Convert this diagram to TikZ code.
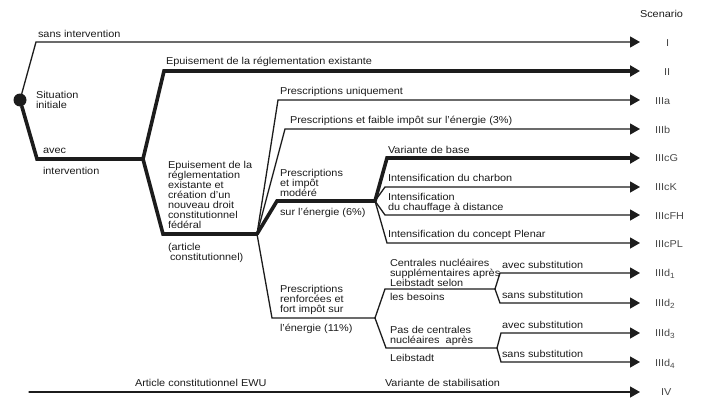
\documentclass[tikz,border=0pt]{standalone}
\usepackage{fontspec}
\setmainfont{Liberation Sans}[FakeStretch=1.09]
\usetikzlibrary{arrows.meta}
\definecolor{ink}{HTML}{1C1C1C}
\begin{document}
\begin{tikzpicture}[x=1pt,y=-1pt,
  lbl/.style={inner sep=0pt, outer sep=0pt, font=\fontsize{10}{10}\selectfont, text=ink, align=left, anchor=west},
  scen/.style={lbl, text=ink!80},
  thinl/.style={draw=ink, line width=1.3pt, line cap=round},
  thickl/.style={draw=ink, line width=3.6pt, line cap=round},
  arr/.style={-{Triangle[length=10pt,width=11pt]}}
]
\useasboundingbox (0,0) rectangle (704,412);
\newcommand{\sub}[1]{\raisebox{-2.5pt}{\fontsize{7.5}{8}\selectfont #1}}

% root
\node[circle, fill=ink, minimum size=13pt, inner sep=0pt] (root) at (20,100) {};

% corners and vertices
\coordinate (cI) at (36,42);
\coordinate (cAv) at (37,159);
\coordinate (vAv) at (143,159);
\coordinate (cII) at (164,71);
\coordinate (cFed) at (163,234);
\coordinate (vFed) at (257,234);
\coordinate (cIIIa) at (278,100);
\coordinate (cIIIb) at (285,129);
\coordinate (cIIIc) at (277,201);
\coordinate (vIIIc) at (375,201);
\coordinate (cIIId) at (272,318);
\coordinate (vIIId) at (375,318);
\coordinate (cG) at (387,158);
\coordinate (cK) at (385,187);
\coordinate (cFH) at (385,215);
\coordinate (cPL) at (387,243);
\coordinate (cDu) at (385,289);
\coordinate (vDu) at (495,289);
\coordinate (cDl) at (386,348);
\coordinate (vDl) at (497,348);
\coordinate (cD1) at (500,273);
\coordinate (cD2) at (500,303);
\coordinate (cD3) at (501,333);
\coordinate (cD4) at (501,362);
\coordinate (sIV) at (29,392);

% arrow ends
\coordinate (eI) at (640,42);
\coordinate (eII) at (640,71);
\coordinate (eIIIa) at (640,100);
\coordinate (eIIIb) at (640,129);
\coordinate (eG) at (640,158);
\coordinate (eK) at (640,187);
\coordinate (eFH) at (640,215);
\coordinate (ePL) at (640,243);
\coordinate (eD1) at (640,273);
\coordinate (eD2) at (640,303);
\coordinate (eD3) at (640,333);
\coordinate (eD4) at (640,362);
\coordinate (eIV) at (640,392);

% connectors
\draw[thinl, arr] (root) -- (cI) -- (eI);
\draw[thickl] (root) -- (cAv) -- (vAv);
\draw[thickl, arr] (vAv) -- (cII) -- (eII);
\draw[thickl] (vAv) -- (cFed) -- (vFed);
\draw[thinl, arr] (vFed) -- (cIIIa) -- (eIIIa);
\draw[thinl, arr] (vFed) -- (cIIIb) -- (eIIIb);
\draw[thickl] (vFed) -- (cIIIc) -- (vIIIc);
\draw[thinl] (vFed) -- (cIIId) -- (vIIId);
\draw[thickl, arr] (vIIIc) -- (cG) -- (eG);
\draw[thinl, arr] (vIIIc) -- (cK) -- (eK);
\draw[thinl, arr] (vIIIc) -- (cFH) -- (eFH);
\draw[thinl, arr] (vIIIc) -- (cPL) -- (ePL);
\draw[thinl] (vIIId) -- (cDu) -- (vDu);
\draw[thinl] (vIIId) -- (cDl) -- (vDl);
\draw[thinl, arr] (vDu) -- (cD1) -- (eD1);
\draw[thinl, arr] (vDu) -- (cD2) -- (eD2);
\draw[thinl, arr] (vDl) -- (cD3) -- (eD3);
\draw[thinl, arr] (vDl) -- (cD4) -- (eD4);
\draw[thinl, arr] (sIV) -- (eIV);

% texts
\node[lbl] (tScen) at (640,14) {Scenario};
\node[lbl] (tSans) at (38,34) {sans intervention};
\node[lbl] (tSit) at (36,100) {Situation\\initiale};
\node[lbl] (tAvec) at (43,151) {avec};
\node[lbl] (tInt) at (43,171) {intervention};
\node[lbl] (tEpu) at (166,62) {Epuisement de la réglementation existante};
\node[lbl] (tFed) at (168,195) {Epuisement de la\\réglementation\\existante et\\création d’un\\nouveau droit\\constitutionnel\\fédéral};
\node[lbl] (tArt) at (168,253) {(article\\\hspace*{2pt}constitutionnel)};
\node[lbl] (tPu) at (280,92) {Prescriptions uniquement};
\node[lbl] (tPf) at (290,121) {Prescriptions et faible impôt sur l’énergie (3\%)};
\node[lbl] (tPm) at (280,183) {Prescriptions\\et impôt\\modéré};
\node[lbl] (tSur6) at (280,213) {sur l’énergie (6\%)};
\node[lbl] (tVb) at (388,150) {Variante de base};
\node[lbl] (tCh) at (388,178) {Intensification du charbon};
\node[lbl] (tCd) at (388,203) {Intensification\\du chauffage à distance};
\node[lbl] (tPl) at (388,235) {Intensification du concept Plenar};
\node[lbl] (tPr) at (280,300) {Prescriptions\\renforcées et\\fort impôt sur};
\node[lbl] (tE11) at (280,329) {l’énergie (11\%)};
\node[lbl] (tCn) at (390,273) {Centrales nucléaires\\supplémentaires après\\Leibstadt selon};
\node[lbl] (tBes) at (390,297) {les besoins};
\node[lbl] (tPas) at (390,336) {Pas de centrales\\nucléaires\ \ après};
\node[lbl] (tLei) at (390,358) {Leibstadt};
\node[lbl] (tAs1) at (502,265) {avec substitution};
\node[lbl] (tSs1) at (502,295) {sans substitution};
\node[lbl] (tAs2) at (502,325) {avec substitution};
\node[lbl] (tSs2) at (502,354) {sans substitution};
\node[lbl] (tArtE) at (135,383) {Article constitutionnel EWU};
\node[lbl] (tStab) at (385,383) {Variante de stabilisation};

% scenario labels
\node[scen] (sI) at (666,43) {I};
\node[scen] (sII) at (664,72) {II};
\node[scen] (sIIIa) at (655,101) {IIIa};
\node[scen] (sIIIb) at (655,130) {IIIb};
\node[scen] (sG) at (655,158) {IIIcG};
\node[scen] (sK) at (655,187) {IIIcK};
\node[scen] (sFH) at (655,216) {IIIcFH};
\node[scen] (sPL) at (655,244) {IIIcPL};
\node[scen] (sD1) at (655,274) {IIId\sub{1}};
\node[scen] (sD2) at (655,304) {IIId\sub{2}};
\node[scen] (sD3) at (655,334) {IIId\sub{3}};
\node[scen] (sD4) at (655,364) {IIId\sub{4}};
\node[scen] (sIV) at (661,392) {IV};
\end{tikzpicture}
\end{document}
